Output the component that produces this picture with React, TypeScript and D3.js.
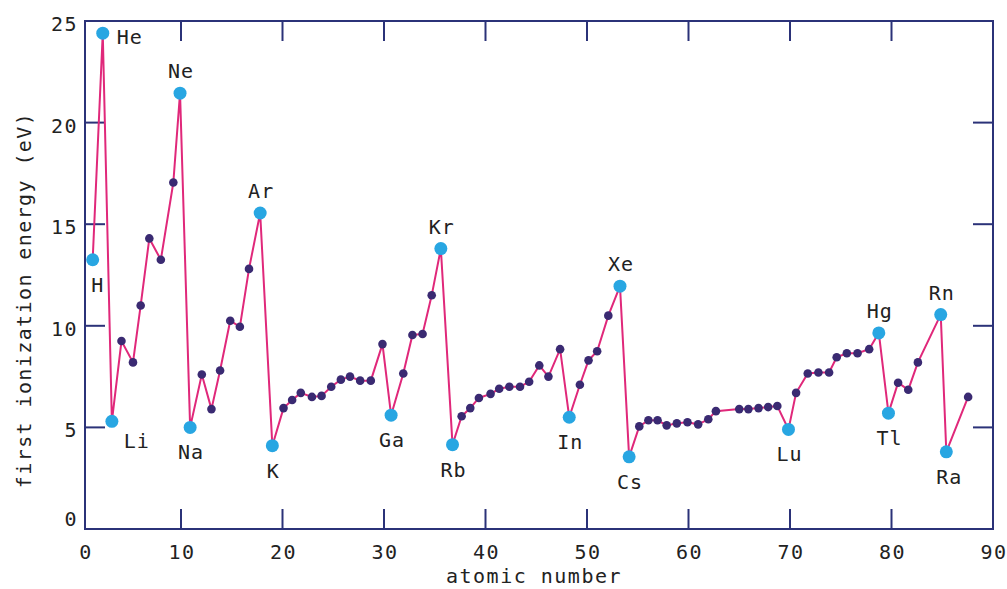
import React from 'react';
import * as d3 from 'd3';

// positions along the x axis as drawn in the chart (atomic number)
const atomicNumber = [
  0.8, 1.85, 2.8, 3.8, 5.0, 5.8, 6.7, 7.9, 9.2, 9.9,
  10.9, 12.05, 13.0, 13.85, 14.85, 15.8, 16.7, 17.8, 19.0, 20.1,
  20.95, 21.8, 22.9, 23.85, 24.8, 25.75, 26.65, 27.65, 28.7, 29.85,
  30.7, 31.9, 32.8, 33.8, 34.7, 35.6, 36.75, 37.65, 38.5, 39.35,
  40.5, 41.35, 42.35, 43.4, 44.3, 45.3, 46.2, 47.35, 48.25, 49.3,
  50.15, 51.0, 52.1, 53.25, 54.15, 55.15, 56.05, 56.95, 57.85, 58.85,
  59.9, 60.95, 61.95, 62.7, 65.0, 65.9, 66.9, 67.85, 68.75, 69.85,
  70.6, 71.75, 72.8, 73.85, 74.6, 75.6, 76.65, 77.8, 78.75, 79.7,
  80.65, 81.65, 82.6, 84.85, 85.4, 87.55,
];

// first ionization energy (eV)
const energy = [
  13.25, 24.4, 5.3, 9.25, 8.2, 11.0, 14.3, 13.25, 17.05, 21.45,
  5.0, 7.6, 5.9, 7.8, 10.25, 9.95, 12.8, 15.55, 4.1, 5.95,
  6.35, 6.7, 6.5, 6.55, 7.0, 7.35, 7.5, 7.3, 7.3, 9.1,
  5.6, 7.65, 9.55, 9.6, 11.5, 13.8, 4.15, 5.55, 5.95, 6.45,
  6.65, 6.9, 7.0, 7.0, 7.25, 8.05, 7.5, 8.85, 5.5, 7.1,
  8.3, 8.75, 10.5, 11.95, 3.55, 5.05, 5.35, 5.35, 5.1, 5.2,
  5.25, 5.15, 5.4, 5.8, 5.9, 5.9, 5.95, 6.0, 6.05, 4.9,
  6.7, 7.65, 7.7, 7.7, 8.45, 8.65, 8.65, 8.85, 9.65, 5.7,
  7.2, 6.85, 8.2, 10.55, 3.8, 6.5,
];

// labelled elements: symbol and index into the arrays above
const symbols = ['H', 'He', 'Li', 'Ne', 'Na', 'Ar', 'K', 'Ga', 'Kr', 'Rb', 'In', 'Xe', 'Cs', 'Lu', 'Hg', 'Tl', 'Rn', 'Ra'];
const symbolIndex = [0, 1, 2, 9, 10, 17, 18, 30, 35, 36, 48, 53, 54, 69, 78, 79, 83, 84];

const xTicks = [0, 10, 20, 30, 40, 50, 60, 70, 80, 90];
const yTicks = [0, 5, 10, 15, 20, 25];

const width = 1007;
const height = 589;
const left = 85;
const right = 993;
const top = 21;
const bottom = 529;

const navy = '#2b3278';
const font = '"DejaVu Sans Mono", monospace';

// where each label sits relative to its point: [dx, baseline dy, anchor]
const placement: Record<string, [number, number, string]> = {
  H: [5, 32, 'middle'],
  He: [14, 11, 'start'],
  Li: [25, 27, 'middle'],
  Ra: [3, 32, 'middle'],
};
const above: [number, number, string] = [1, -15, 'middle'];
const below: [number, number, string] = [1, 32, 'middle'];
const aboveSet = ['Ne', 'Ar', 'Kr', 'Xe', 'Hg', 'Rn'];

const App = () => {
  const x = d3.scaleLinear().domain([0, 10, 90]).range([left, 181, right]);
  const y = d3.scaleLinear().domain([0, 25]).range([bottom, top]);

  const points = atomicNumber.map((z, i) => [z, energy[i]] as [number, number]);
  const line = d3.line<[number, number]>()
    .x(d => x(d[0]))
    .y(d => y(d[1]));

  return (
    <div style={{ position: 'absolute', left: 0, top: 0 }}>
      <svg width={width} height={height} style={{ display: 'block', background: '#fff' }}>
        <rect x={left} y={top} width={right - left} height={bottom - top}
          fill="none" stroke={navy} strokeWidth={2} />

        {xTicks.slice(1, -1).map(t => (
          <g key={'xt' + t} stroke={navy} strokeWidth={2}>
            <line x1={x(t)} x2={x(t)} y1={bottom} y2={bottom - 20} />
            <line x1={x(t)} x2={x(t)} y1={top} y2={top + 20} />
          </g>
        ))}
        {yTicks.slice(1, -1).map(t => (
          <g key={'yt' + t} stroke={navy} strokeWidth={2}>
            <line x1={left} x2={left + 20} y1={y(t)} y2={y(t)} />
            <line x1={right} x2={right - 20} y1={y(t)} y2={y(t)} />
          </g>
        ))}

        {xTicks.map(t => (
          <text key={'xl' + t} x={x(t) + 1} y={559} textAnchor="middle"
            fontFamily={font} fontSize={20} letterSpacing={1.5} fill="#222">{t}</text>
        ))}
        {yTicks.map(t => (
          <text key={'yl' + t} x={78} y={t === 0 ? 526 : y(t) + 10} textAnchor="end"
            fontFamily={font} fontSize={20} letterSpacing={1.5} fill="#222">{t}</text>
        ))}

        <text x={534} y={583} textAnchor="middle" fontFamily={font} fontSize={20}
          letterSpacing={1.5} fill="#222">atomic number</text>
        <text transform="translate(31,300) rotate(-90)" textAnchor="middle" fontFamily={font}
          fontSize={20} letterSpacing={1.4} fill="#222">first ionization energy (eV)</text>

        <path d={line(points) ?? ''} fill="none" stroke="#e0287a" strokeWidth={2} />

        {points.map((p, i) => symbolIndex.includes(i) ? null : (
          <circle key={'p' + i} cx={x(p[0])} cy={y(p[1])} r={4.3} fill="#3a2a72" />
        ))}
        {symbolIndex.map((idx, k) => {
          const s = symbols[k];
          const pos = placement[s] ?? (aboveSet.includes(s) ? above : below);
          const cx = x(atomicNumber[idx]);
          const cy = y(energy[idx]);
          return (
            <g key={'s' + s}>
              <circle cx={cx} cy={cy} r={6.5} fill="#28a6e2" />
              <text x={cx + pos[0]} y={cy + pos[1]} textAnchor={pos[2]}
                fontFamily={font} fontSize={20} letterSpacing={1} fill="#222">{s}</text>
            </g>
          );
        })}
      </svg>
    </div>
  );
};

export default App;
